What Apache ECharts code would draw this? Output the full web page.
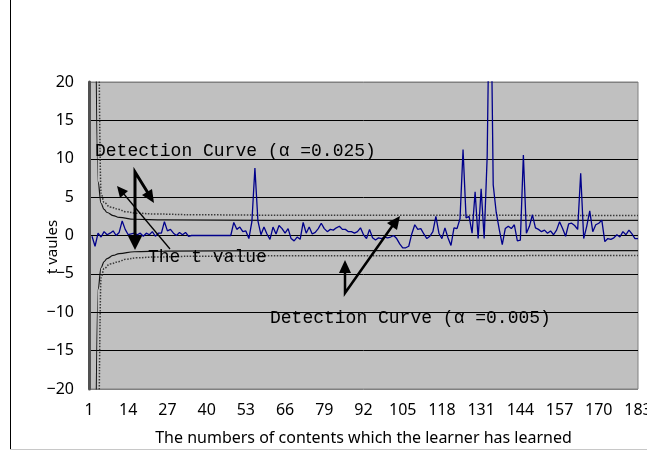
<!DOCTYPE html>
<html>
<head>
<meta charset="utf-8">
<script src="https://cdn.jsdelivr.net/npm/echarts@6/dist/echarts.min.js"></script>
<style>
html, body { margin: 0; padding: 0; background: #fff; overflow: hidden; }
#chart { width: 647px; height: 452px; }
</style>
</head>
<body>
<div id="chart"></div>
<script>
// contents 1..183
const categories = Array.from({ length: 183 }, (_, i) => String(i + 1));

// t value of each content
const tValues = [
  null, -0.1, -1.4, 0.3, -0.2, 0.5, 0.1, 0.3, 0.6, 0.0,
  0.4, 1.9, 0.8, 0.1, 0.2, 0.3, 0.1, 0.3, -0.1, 0.3,
  0.1, 0.5, -0.1, 0.3, 0.3, 1.8, 0.6, 0.8, 0.3, 0.0,
  0.4, 0.1, 0.4, -0.1, 0, 0, 0, 0, 0, 0,
  0, 0, 0, 0, 0, 0, 0, 0, 1.7, 0.8,
  1.1, 0.5, 0.6, -0.4, 1.8, 8.8, 1.9, 0.1, 1.1, 0.2,
  -0.5, 1.1, 0.2, 1.3, 0.9, 0.3, 0.9, -0.4, -0.7, -0.2,
  -0.5, 1.7, 0.3, 1.1, 0.2, 0.4, 0.9, 1.6, 0.9, 0.5,
  0.8, 0.7, 1.0, 1.2, 0.8, 0.8, 0.5, 0.5, 0.3, 0.5,
  1.0, 0.1, -0.4, 0.8, -0.3, -0.6, -0.3, -0.4, -0.2, -0.3,
  -0.2, 0.0, -0.4, -1.1, -1.6, -1.6, -1.4, 0.2, 1.4, 0.8,
  0.9, 0.2, -0.4, -0.1, 0.5, 2.5, 0.3, -0.4, 1.0, -0.3,
  -1.3, 1.0, 0.9, 2.2, 11.2, 2.3, 2.5, 0.3, 5.7, -0.4,
  6.1, -0.4, 10.3, 40, 6.6, 3.0, 0.8, -1.2, 0.9, 1.2,
  0.9, 1.4, -0.7, -0.6, 10.5, 0.3, 1.2, 2.7, 1.0, 0.8,
  0.5, 0.7, 0.3, 0.6, 0.1, 0.7, 1.8, 0.9, -0.1, 1.5,
  1.6, 1.3, 0.8, 8.1, -0.4, 1.2, 3.2, 0.5, 1.4, 1.6,
  2.0, -0.8, -0.4, -0.5, -0.3, 0.1, -0.2, 0.5, 0.1, 0.7,
  0.2, -0.4, -0.4
];

// detection curves: [content index, value]
const upperSolid = [[2, 40], [3, 7.0], [4, 4.2], [5, 3.4], [6, 3.0], [8, 2.6], [10, 2.35], [15, 2.12], [25, 2.03], [60, 1.98], [182, 1.96]];
const lowerSolid = [[2, -40], [3, -7.0], [4, -4.2], [5, -3.4], [6, -3.0], [8, -2.6], [10, -2.35], [15, -2.12], [25, -2.03], [60, -1.98], [182, -1.96]];
const upperDotted = [[3, 40], [4, 5.5], [5, 4.3], [7, 3.7], [10, 3.4], [12, 3.1], [16, 2.9], [22, 2.8], [35, 2.7], [60, 2.65], [182, 2.6]];
const lowerDotted = [[3, -40], [4, -5.5], [5, -4.3], [7, -3.7], [10, -3.4], [12, -3.1], [16, -2.9], [22, -2.8], [35, -2.7], [60, -2.65], [182, -2.6]];

const labelFont = 'Noto Sans';
const noteFont = '18px "Liberation Mono"';

const curve = (data, dotted) => ({
  type: 'line',
  data: data,
  symbol: 'none',
  smooth: 0.4,
  smoothMonotone: 'x',
  silent: true,
  z: 2,
  lineStyle: dotted
    ? { color: '#3a3a3a', width: 1.5, type: [1.5, 1.5] }
    : { color: '#111', width: 1.2 }
});

const note = (text, x, y) => ({
  type: 'text', x: x, y: y, z: 20,
  style: { text: text, font: noteFont, fill: '#000', textAlign: 'left', textVerticalAlign: 'middle' }
});
const arrowLine = (points, w) => ({
  type: 'polyline', z: 20, shape: { points: points },
  style: { stroke: '#000', lineWidth: w, fill: null }
});
const head = (points) => ({
  type: 'polygon', z: 20, shape: { points: points }, style: { fill: '#000' }
});

const chart = echarts.init(document.getElementById('chart'), null, { width: 647, height: 452 });
chart.setOption({
  animation: false,
  backgroundColor: '#fff',
  grid: {
    left: 89, top: 82, width: 549, height: 307,
    outerBoundsMode: 'none',
    show: true, backgroundColor: '#c0c0c0', borderColor: '#808080', borderWidth: 1
  },
  xAxis: {
    type: 'category',
    data: categories,
    boundaryGap: false,
    axisLine: { show: false, onZero: false },
    axisTick: { show: false },
    axisLabel: { interval: 12, color: '#000', fontSize: 16, fontFamily: labelFont, margin: 13 },
    splitLine: { show: false },
    name: 'The numbers of contents which the learner has learned',
    nameLocation: 'middle',
    nameGap: 41,
    nameTextStyle: { color: '#000', fontSize: 16, fontFamily: labelFont }
  },
  yAxis: {
    type: 'value',
    min: -20, max: 20, interval: 5,
    axisLine: { show: true, lineStyle: { color: '#505050', width: 3 } },
    axisTick: { show: false },
    axisLabel: {
      color: '#000', fontSize: 16, fontFamily: labelFont, margin: 15,
      formatter: v => String(v).replace('-', '\u2212')
    },
    splitLine: {
      lineStyle: { color: ['#808080', '#000', '#000', '#000', '#000', '#000', '#000', '#000', '#808080'], width: 1 }
    }
  },
  series: [
    curve(upperSolid, false),
    curve(lowerSolid, false),
    curve(upperDotted, true),
    curve(lowerDotted, true),
    {
      name: 't value',
      type: 'line',
      data: tValues,
      symbol: 'none',
      z: 3,
      lineStyle: { color: '#00008b', width: 1.3 }
    }
  ],
  graphic: [
    { type: 'line', shape: { x1: 10.5, y1: 0, x2: 10.5, y2: 450 }, style: { stroke: '#000', lineWidth: 1 } },
    { type: 'line', shape: { x1: 10, y1: 449.5, x2: 647, y2: 449.5 }, style: { stroke: '#c8c8c8', lineWidth: 1 } },
    {
      type: 'text', x: 53, y: 247, rotation: Math.PI / 2,
      style: { text: 't vaules', font: '15px "Noto Sans"', fill: '#000', textAlign: 'center', textVerticalAlign: 'middle' }
    },
    note('Detection Curve (\u03b1 =0.025)', 95, 151),
    note('The t value', 148, 257),
    note('Detection Curve (\u03b1 =0.005)', 270, 318),
    // thick double arrow (left)
    arrowLine([[148, 193], [135, 172], [135, 238]], 3),
    head([[128, 236], [142, 236], [135, 250]]),
    head([[154, 203], [142, 195], [152, 189]]),
    // thin arrow to the t value line
    arrowLine([[170, 249], [123, 193]], 1.3),
    head([[117, 186], [128, 191], [120, 198]]),
    // arrow in the middle
    arrowLine([[345, 270], [345, 293], [393, 225]], 2.5),
    head([[339, 273], [351, 273], [345, 260]]),
    head([[400, 216], [397, 230], [387, 223]])
  ]
});
</script>
</body>
</html>
